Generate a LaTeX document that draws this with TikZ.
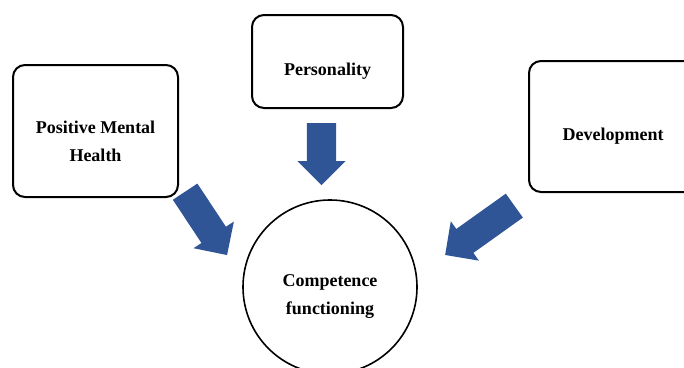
\documentclass[tikz,border=0pt]{standalone}
\usepackage{fontspec}
\setmainfont{Liberation Serif}
\usetikzlibrary{shapes,positioning,calc}
\definecolor{arrowblue}{RGB}{47,85,151}

\begin{document}
\begin{tikzpicture}[x=1pt,y=-1pt,
						box/.style={draw, line width=2pt, rounded corners=12pt, inner sep=0pt},
						ring/.style={draw, circle, line width=1.6pt, minimum size=174pt, inner sep=0pt},
						lbl/.style={align=center, font=\fontsize{18}{28}\selectfont\bfseries},
						blockarrow/.style={single arrow, fill=arrowblue, inner sep=14.5pt, single arrow head extend=9.5pt, anchor=tail},
						]
					\path[use as bounding box, clip] (0,0) rectangle (684,367);

					\node[box, minimum width=165pt, minimum height=132pt] (health) at (95.5,131) {};
					\node[box, minimum width=151pt, minimum height=93pt] (pers) at (327.5,61.5) {};
					\node[box, minimum width=168pt, minimum height=131pt] (dev) at (613,126.5) {};
					\node[ring] (comp) at (330,287) {};

					\node[lbl] (healthtext) at ([yshift=-10pt]health.center) {Positive Mental\\Health};
					\node[lbl] (perstext) at ([yshift=-10pt]pers.center) {Personality};
					\node[lbl] (devtext) at ([yshift=-10pt]dev.center) {Development};
					\node[lbl] (comptext) at ([yshift=-10pt]comp.center) {Competence\\functioning};

					\node[blockarrow, minimum height=62pt, rotate=-90] (a1) at (321.5,123) {};
					\node[blockarrow, minimum height=76pt, rotate=-56.5] (a2) at (185,191.5) {};
					\node[blockarrow, minimum height=85pt, rotate=215.5] (a3) at (514.5,205.5) {};
				\end{tikzpicture}
\end{document}
